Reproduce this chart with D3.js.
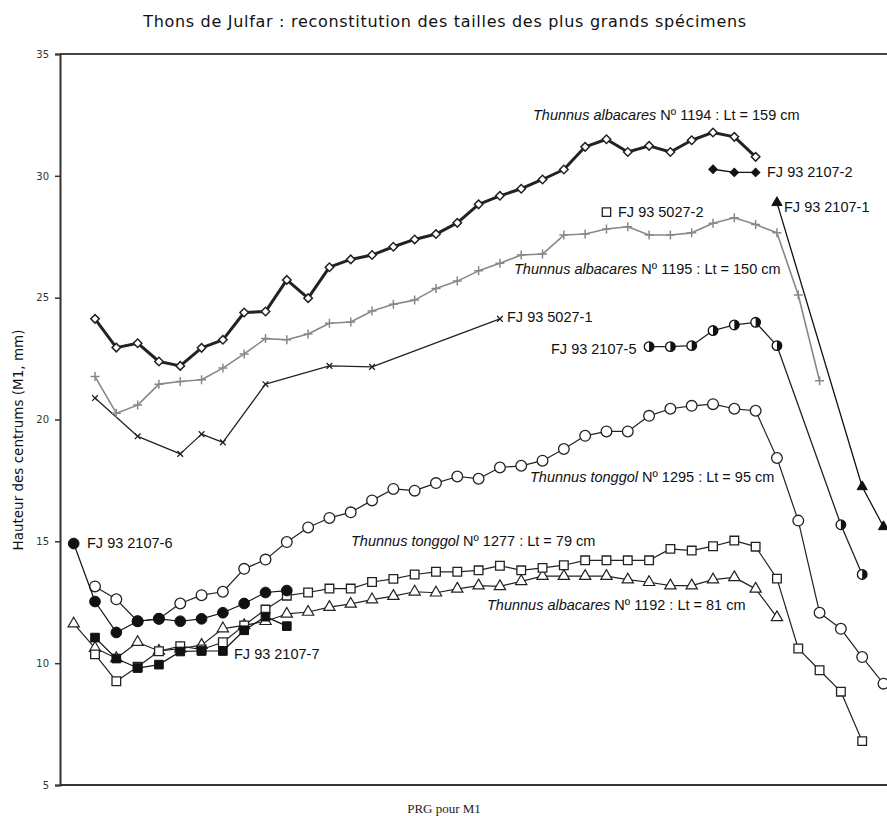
<!DOCTYPE html>
<html>
<head>
<meta charset="utf-8">
<script src="https://cdn.jsdelivr.net/npm/d3@7"></script>
<style>
  body { margin: 0; background: #fff; }
  text { fill: #111; }
</style>
</head>
<body>
<div id="chart"></div>
<script>
// rang (PRG) and hauteur (mm) for each specimen
var rang1194 = d3.range(0, 32);
var val1194 = [24.13, 22.95, 23.13, 22.38, 22.2, 22.94, 23.27, 24.39, 24.43, 25.73, 24.98, 26.25, 26.57, 26.75, 27.09, 27.39,
               27.61, 28.07, 28.83, 29.18, 29.47, 29.85, 30.26, 31.19, 31.5, 30.98, 31.23, 30.98, 31.46, 31.78, 31.6, 30.78];

var rang1195 = d3.range(0, 35);
var val1195 = [21.76, 20.26, 20.59, 21.45, 21.56, 21.63, 22.11, 22.69, 23.32, 23.27, 23.51, 23.95, 24.0, 24.45, 24.73, 24.9,
               25.38, 25.68, 26.1, 26.41, 26.75, 26.79, 27.57, 27.61, 27.82, 27.91, 27.57, 27.57, 27.66, 28.05, 28.28, 28.0,
               27.66, 25.11, 21.59];

var rang5027_1 = [0, 2, 4, 5, 6, 8, 11, 13, 19];
var val5027_1 = [20.88, 19.31, 18.59, 19.4, 19.06, 21.45, 22.2, 22.16, 24.13];

var rang5027_2 = [24];
var val5027_2 = [28.51];

var rang2107_2 = [29, 30, 31];
var val2107_2 = [30.27, 30.14, 30.14];

var rang2107_1 = [32, 36, 37];
var val2107_1 = [28.9, 17.24, 15.6];

var rang2107_5 = [26, 27, 28, 29, 30, 31, 32, 35, 36];
var val2107_5 = [22.99, 22.99, 23.03, 23.65, 23.88, 23.99, 23.03, 15.68, 13.64];

var rang1295 = d3.range(0, 38);
var val1295 = [13.15, 12.62, 11.72, 11.82, 12.45, 12.79, 12.93, 13.87, 14.25, 14.97, 15.57, 15.96, 16.19, 16.68, 17.15, 17.08,
               17.39, 17.66, 17.57, 18.03, 18.1, 18.31, 18.79, 19.33, 19.51, 19.51, 20.15, 20.44, 20.56, 20.63, 20.44, 20.36,
               18.42, 15.85, 12.07, 11.41, 10.25, 9.16];

var rang1277 = d3.range(0, 37);
var val1277 = [10.36, 9.26, 9.85, 10.49, 10.7, 10.56, 10.86, 11.55, 12.2, 12.77, 12.9, 13.06, 13.06, 13.33, 13.46, 13.64,
               13.75, 13.75, 13.81, 14.0, 13.81, 13.91, 14.02, 14.22, 14.22, 14.22, 14.22, 14.69, 14.62, 14.8, 15.03, 14.78,
               13.47, 10.6, 9.71, 8.83, 6.8];

var rang1192 = d3.range(-1, 33);
var val1192 = [11.62, 10.62, 10.2, 10.86, 10.5, 10.6, 10.74, 11.42, 11.55, 11.72, 12.02, 12.1, 12.3, 12.43, 12.61, 12.75,
               12.93, 12.89, 13.05, 13.18, 13.15, 13.36, 13.57, 13.57, 13.57, 13.57, 13.43, 13.32, 13.18, 13.18, 13.43, 13.52,
               13.05, 11.88];

var rang2107_6 = d3.range(-1, 10);
var val2107_6 = [14.91, 12.53, 11.26, 11.72, 11.82, 11.72, 11.82, 12.07, 12.45, 12.9, 12.98];

var rang2107_7 = d3.range(0, 10);
var val2107_7 = [11.05, 10.19, 9.8, 9.94, 10.48, 10.5, 10.5, 11.35, 11.91, 11.52];

var yTicks = [5, 10, 15, 20, 25, 30, 35];

var width = 887, height = 816;
var margin = { top: 54, right: 0, bottom: 31, left: 60 };

var svg = d3.select("#chart").append("svg")
    .attr("width", width)
    .attr("height", height);

var x = d3.scaleLinear().domain([-1, 37]).range([73.7, 883.5]);
var y = d3.scaleLinear().domain([5, 35]).range([height - margin.bottom, margin.top]);

// title
svg.append("text")
    .attr("x", 445)
    .attr("y", 21)
    .attr("dy", "0.35em")
    .attr("text-anchor", "middle")
    .style("font-family", "DejaVu Sans")
    .style("font-size", "16px")
    .style("letter-spacing", "0.7px")
    .text("Thons de Julfar : reconstitution des tailles des plus grands spécimens");

// frame: top line, left axis, bottom axis
svg.append("line")
    .attr("x1", margin.left).attr("x2", width)
    .attr("y1", y(35)).attr("y2", y(35))
    .attr("stroke", "#444").attr("stroke-width", 2);

svg.append("line")
    .attr("x1", margin.left).attr("x2", width)
    .attr("y1", y(5)).attr("y2", y(5))
    .attr("stroke", "#333").attr("stroke-width", 2);

var yAxis = svg.append("g")
    .attr("transform", "translate(" + margin.left + ",0)")
    .call(d3.axisLeft(y).tickValues(yTicks).tickSize(5).tickPadding(6).tickFormat(d3.format("d")));

yAxis.select(".domain").attr("stroke", "#333").attr("stroke-width", 2);
yAxis.selectAll(".tick line").attr("stroke", "#333").attr("stroke-width", 1.5);
yAxis.selectAll(".tick text")
    .style("font-family", "DejaVu Sans")
    .style("font-size", "10px")
    .style("fill", "#333");

svg.append("text")
    .attr("transform", "translate(18,440) rotate(-90)")
    .attr("dy", "0.35em")
    .attr("text-anchor", "middle")
    .style("font-family", "DejaVu Sans")
    .style("font-size", "13.5px")
    .text("Hauteur des centrums (M1, mm)");

svg.append("text")
    .attr("x", 444)
    .attr("y", 808)
    .attr("dy", "0.35em")
    .attr("text-anchor", "middle")
    .style("font-family", "Liberation Serif")
    .style("font-size", "13px")
    .style("fill", "#222")
    .text("PRG pour M1");

// series drawing
function pts(rang, vals) {
    return rang.map(function(r, i) { return { r: r, v: vals[i] }; });
}

var line = d3.line().x(function(d) { return x(d.r); }).y(function(d) { return y(d.v); });

function drawLine(data, color, w) {
    svg.append("path")
        .datum(data)
        .attr("d", line)
        .attr("fill", "none")
        .attr("stroke", color)
        .attr("stroke-width", w)
        .attr("stroke-linejoin", "round");
}

function drawSymbols(data, type, size, fill, stroke, sw, rot) {
    svg.append("g").selectAll("path")
        .data(data)
        .enter()
        .append("path")
        .attr("transform", function(d) { return "translate(" + x(d.r) + "," + y(d.v) + ") rotate(" + (rot || 0) + ")"; })
        .attr("d", d3.symbol().type(type).size(size))
        .attr("fill", fill)
        .attr("stroke", stroke)
        .attr("stroke-width", sw);
}

function drawCross(data, color, half, rot, sw) {
    svg.append("g").selectAll("path")
        .data(data)
        .enter()
        .append("path")
        .attr("transform", function(d) { return "translate(" + x(d.r) + "," + y(d.v) + ") rotate(" + rot + ")"; })
        .attr("d", "M" + (-half) + ",0H" + half + "M0," + (-half) + "V" + half)
        .attr("stroke", color)
        .attr("stroke-width", sw);
}

function drawHalfCircles(data, r) {
    var g = svg.append("g").selectAll("g")
        .data(data)
        .enter()
        .append("g")
        .attr("transform", function(d) { return "translate(" + x(d.r) + "," + y(d.v) + ")"; });
    g.append("circle").attr("r", r).attr("fill", "#fff").attr("stroke", "#111").attr("stroke-width", 1.3);
    g.append("path")
        .attr("d", "M0," + (-r) + "A" + r + "," + r + " 0 0,1 0," + r + "Z")
        .attr("fill", "#111");
}

var d1194 = pts(rang1194, val1194),
    d1195 = pts(rang1195, val1195),
    d5027_1 = pts(rang5027_1, val5027_1),
    d5027_2 = pts(rang5027_2, val5027_2),
    d2107_2 = pts(rang2107_2, val2107_2),
    d2107_1 = pts(rang2107_1, val2107_1),
    d2107_5 = pts(rang2107_5, val2107_5),
    d1295 = pts(rang1295, val1295),
    d1277 = pts(rang1277, val1277),
    d1192 = pts(rang1192, val1192),
    d2107_6 = pts(rang2107_6, val2107_6),
    d2107_7 = pts(rang2107_7, val2107_7);

var square = d3.symbolSquare, triangle = d3.symbolTriangle, circle = d3.symbolCircle;

// lower group
drawLine(d1192, "#222", 1.2);
drawSymbols(d1192, triangle, 55, "#fff", "#222", 1.2);

drawLine(d1277, "#222", 1.2);
drawSymbols(d1277, square, 75, "#fff", "#222", 1.3);

drawLine(d2107_7, "#111", 1.2);
drawSymbols(d2107_7, square, 75, "#111", "#111", 1);

drawLine(d1295, "#222", 1.2);
drawSymbols(d1295, circle, 90, "#fff", "#222", 1.3);

drawLine(d2107_6, "#111", 1.2);
drawSymbols(d2107_6, circle, 90, "#111", "#111", 1);

// upper group
drawLine(d5027_1, "#222", 1.3);
drawCross(d5027_1, "#222", 4, 45, 1.3);

drawLine(d1195, "#888", 1.6);
drawCross(d1195, "#888", 4.5, 0, 1.5);

drawLine(d2107_5, "#222", 1.3);
drawHalfCircles(d2107_5, 4.8);

drawLine(d2107_1, "#111", 1.3);
drawSymbols(d2107_1, triangle, 45, "#111", "#111", 1);

drawLine(d1194, "#222", 3);
drawSymbols(d1194, square, 36, "#fff", "#222", 1.5, 45);

drawLine(d2107_2, "#111", 1.3);
drawSymbols(d2107_2, square, 36, "#111", "#111", 1, 45);

drawSymbols(d5027_2, square, 70, "#fff", "#222", 1.3);

// labels
var labels = [
    { x: 533, y: 115, it: "Thunnus albacares", rest: " Nº 1194 : Lt = 159 cm" },
    { x: 767, y: 172, it: "", rest: "FJ 93 2107-2" },
    { x: 784, y: 207, it: "", rest: "FJ 93 2107-1" },
    { x: 618, y: 212, it: "", rest: "FJ 93 5027-2" },
    { x: 514, y: 269, it: "Thunnus albacares", rest: " Nº 1195 : Lt = 150 cm" },
    { x: 507, y: 317, it: "", rest: "FJ 93 5027-1" },
    { x: 551, y: 349, it: "", rest: "FJ 93 2107-5" },
    { x: 530, y: 477, it: "Thunnus tonggol", rest: " Nº 1295 : Lt = 95 cm" },
    { x: 351, y: 541, it: "Thunnus tonggol", rest: " Nº 1277 : Lt = 79 cm" },
    { x: 487, y: 605, it: "Thunnus albacares", rest: " Nº 1192 : Lt = 81 cm" },
    { x: 87, y: 543, it: "", rest: "FJ 93 2107-6" },
    { x: 234, y: 654, it: "", rest: "FJ 93 2107-7" }
];

labels.forEach(function(l) {
    var t = svg.append("text")
        .attr("x", l.x)
        .attr("y", l.y)
        .attr("dy", "0.35em")
        .style("font-family", "Liberation Sans, Arial, sans-serif")
        .style("font-size", "14.5px");
    if (l.it) t.append("tspan").style("font-style", "italic").text(l.it);
    t.append("tspan").text(l.rest);
});
</script>
</body>
</html>
